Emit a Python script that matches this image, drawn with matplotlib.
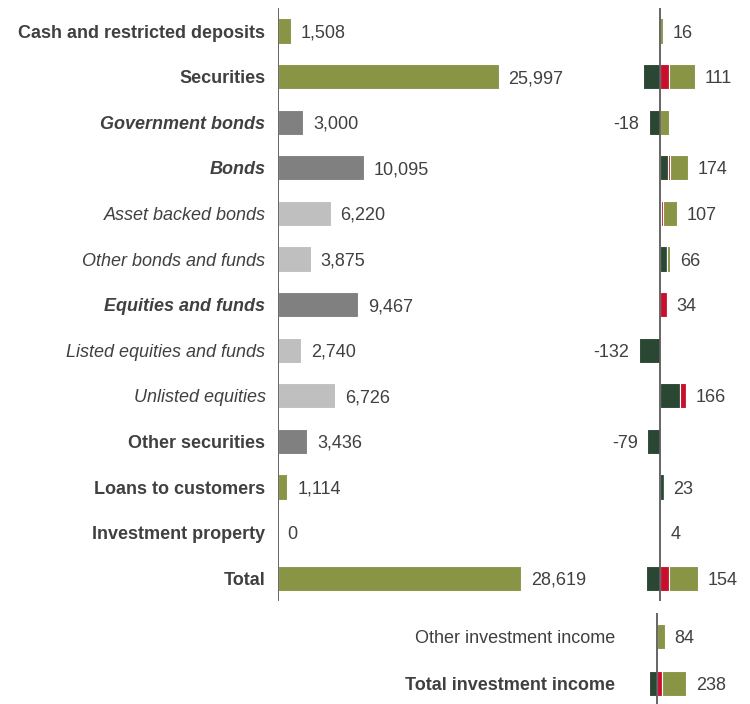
import matplotlib.pyplot as plt
import numpy as np

plt.rcParams['font.family'] = ['Liberation Sans', 'DejaVu Sans']

# --- data ---
categories = ['Cash and restricted deposits', 'Securities', 'Government bonds', 'Bonds',
              'Asset backed bonds', 'Other bonds and funds', 'Equities and funds',
              'Listed equities and funds', 'Unlisted equities', 'Other securities',
              'Loans to customers', 'Investment property', 'Total']
styles = ['bold', 'bold', 'bolditalic', 'bolditalic', 'italic', 'italic', 'bolditalic',
          'italic', 'italic', 'bold', 'bold', 'bold', 'bold']
balance = [1508, 25997, 3000, 10095, 6220, 3875, 9467, 2740, 6726, 3436, 1114, 0, 28619]
levels = ['main', 'main', 'sub', 'sub', 'subsub', 'subsub', 'sub', 'subsub', 'subsub',
          'sub', 'main', 'main', 'main']

# income split in three parts (dark green / crimson / olive)
inc_dark = [0, -109, -72, 50, 8, 42, -8, -132, 124, -79, 23, 0, -86]
inc_red = [0, 55, 0, 13, 11, 2, 42, 0, 42, 0, 0, 0, 55]
inc_olive = [16, 165, 54, 111, 88, 22, 0, 0, 0, 0, 0, 4, 185]
inc_total = [16, 111, -18, 174, 107, 66, 34, -132, 166, -79, 23, 4, 154]

other_labels = ['Other investment income', 'Total investment income']
other_weights = ['normal', 'bold']
other_dark = [0, -86]
other_red = [4, 59]
other_olive = [80, 265]
other_total = [84, 238]

OLIVE = '#8A9445'
DGREY = '#808080'
LGREY = '#BFBFBF'
DGREEN = '#2A4733'
RED = '#C8102E'
TXT = '#404040'
AXC = '#595959'
FS = 13
DY = -1.5  # small downward nudge of texts, in points
level_colors = {'main': OLIVE, 'sub': DGREY, 'subsub': LGREY}

W, H = 750, 704
fig = plt.figure(figsize=(W / 100, H / 100), dpi=100)


def px_axes(x0, y0, x1, y1):
    return fig.add_axes([x0 / W, 1 - y1 / H, (x1 - x0) / W, (y1 - y0) / H])


def clean(ax):
    for s in ax.spines.values():
        s.set_visible(False)
    ax.set_xticks([])
    ax.set_yticks([])
    ax.patch.set_alpha(0)


def font_kw(style):
    return {'fontweight': 'bold' if 'bold' in style else 'normal',
            'fontstyle': 'italic' if 'italic' in style else 'normal'}


def stacked(ax, y, parts, colors, height):
    pos = np.zeros(len(y))
    neg = np.zeros(len(y))
    for vals, c in zip(parts, colors):
        vals = np.array(vals, dtype=float)
        left = np.where(vals >= 0, pos, neg)
        ax.barh(y, vals, left=left, height=height, color=c, edgecolor='white', linewidth=0.8)
        pos += np.where(vals >= 0, vals, 0)
        neg += np.where(vals < 0, vals, 0)
    return pos, neg


def value_labels(ax, y, totals, pos, neg):
    for yi, t, p, n in zip(y, totals, pos, neg):
        if t >= 0:
            ax.annotate(f'{t:,}', (p, yi), xytext=(7, DY), textcoords='offset points',
                        ha='left', va='center', fontsize=FS, color=TXT)
        else:
            ax.annotate(f'{t:,}', (n, yi), xytext=(-7, DY), textcoords='offset points',
                        ha='right', va='center', fontsize=FS, color=TXT)


n = len(categories)
y = np.arange(n)

# left panel: balances
ax1 = px_axes(278, 8.2, 578, 601)
clean(ax1)
ax1.barh(y, balance, height=0.55, color=[level_colors[l] for l in levels],
         edgecolor='white', linewidth=0.8)
ax1.set_xlim(0, 300 * 117.8)
ax1.set_ylim(n - 0.5, -0.5)
ax1.axvline(0, color=AXC, lw=1.3, zorder=5)
for yi, v in zip(y, balance):
    ax1.annotate(f'{v:,}', (v, yi), xytext=(7, DY), textcoords='offset points',
                 ha='left', va='center', fontsize=FS, color=TXT)
for yi, lab, st in zip(y, categories, styles):
    ax1.annotate(lab, (0, yi), xytext=(-9, DY), textcoords='offset points',
                 ha='right', va='center', fontsize=FS, color=TXT, **font_kw(st))

# right top panel: investment income
ax2 = px_axes(600, 8.2, 750, 601)
clean(ax2)
s2 = 6.3
pos, neg = stacked(ax2, y, [inc_dark, inc_red, inc_olive], [DGREEN, RED, OLIVE], 0.55)
ax2.set_xlim(-60 * s2, 90 * s2)
ax2.set_ylim(n - 0.5, -0.5)
ax2.axvline(0, color=AXC, lw=1.3, zorder=5)
value_labels(ax2, y, inc_total, pos, neg)

# right bottom panel: other income and total
ax3 = px_axes(380, 613, 750, 707)
clean(ax3)
s3 = 11.2
y3 = np.arange(len(other_labels))
pos3, neg3 = stacked(ax3, y3, [other_dark, other_red, other_olive], [DGREEN, RED, OLIVE], 0.52)
ax3.set_xlim(-277 * s3, 93 * s3)
ax3.set_ylim(len(other_labels) - 0.5, -0.5)
ax3.axvline(0, color=AXC, lw=1.3, zorder=5)
value_labels(ax3, y3, other_total, pos3, neg3)
for yi, lab, wt in zip(y3, other_labels, other_weights):
    ax3.annotate(lab, (0, yi), xytext=(-30, DY), textcoords='offset points',
                 ha='right', va='center', fontsize=FS, color=TXT, fontweight=wt)

fig.savefig('out.png', dpi=100)
